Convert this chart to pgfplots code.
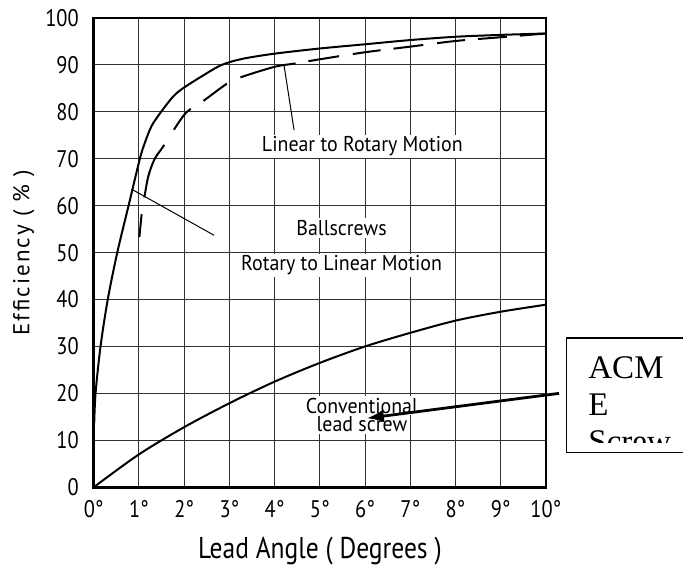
\documentclass[border=0pt]{standalone}
\usepackage{fontspec}
\setmainfont{PT Sans}
\newfontfamily\tickfont{PT Sans}[FakeStretch=0.85]
\newfontfamily\notefont{PT Sans}[FakeStretch=0.93]
\newfontfamily\ylabfont{PT Sans}[LetterSpace=9]
\newfontfamily\acmefont{Liberation Serif}
\usepackage{pgfplots}
\pgfplotsset{compat=1.18}
\usetikzlibrary{calc,arrows.meta}

\tikzset{
  lbl/.style={anchor=base, fill=white, inner sep=1pt, font=\notefont\fontsize{10.7}{12}\selectfont},
  acme/.style={anchor=base west, inner sep=0pt, font=\acmefont\fontsize{16.5}{18}\selectfont},
}

\begin{document}
\begin{tikzpicture}
\begin{axis}[
  name=ax,
  scale only axis,
  width=226pt, height=234.5pt,
  xmin=0, xmax=10, ymin=0, ymax=100,
  xtick={0,...,10},
  xticklabels={0°,1°,2°,3°,4°,5°,6°,7°,8°,9°,10°},
  ytick={0,10,...,100},
  grid=major,
  major grid style={black!80, line width=0.5pt},
  major tick length=0pt,
  axis line style={line width=1.3pt},
  tick label style={font=\tickfont\fontsize{12}{14}\selectfont},
  /pgf/number format/assume math mode=true,
  xticklabel style={yshift=-3pt},
  yticklabel style={xshift=-4pt},
  xlabel={Lead Angle ( Degrees )},
  ylabel={Efficiency ( \% )},
  xlabel style={font=\tickfont\fontsize{15}{17}\selectfont,
    at={(axis description cs:0.5,-0.151)}, anchor=base},
  ylabel style={font=\ylabfont\fontsize{11.5}{13}\selectfont,
    at={(axis description cs:-0.155,0.5)}, anchor=center},
  clip=false,
]
% ballscrew, rotary to linear (solid)
\addplot[black, line width=1pt, smooth, tension=0.5] coordinates {
(0.01,13.6) (0.04,20) (0.15,30) (0.31,40) (0.52,50) (0.77,60) (1.02,70)
(1.13,73.4) (1.28,77) (1.49,80) (1.75,83.2) (1.97,85) (2.41,87.7) (2.83,90)
(3.29,91.3) (4,92.4) (5,93.5) (6,94.4) (7,95.3) (8,96) (9,96.4) (10,96.7)
};
% ballscrew, linear to rotary (dashed)
\addplot[black, line width=1pt, smooth, tension=0.5,
  dash pattern=on 11.5pt off 8.5pt on 28.5pt off 9pt on 13.5pt off 7.5pt
  on 14.5pt off 7.5pt on 28.5pt off 6.5pt on 15.5pt off 7pt on 14pt off 6.5pt
  on 15pt off 7pt on 14pt off 6.5pt on 14.5pt off 6.5pt on 14pt off 6.5pt
  on 14pt off 6.5pt on 14pt off 6.5pt] coordinates {
(1.01,53.3) (1.06,58.2) (1.12,61.8) (1.21,66.4) (1.35,70) (1.55,72.8)
(1.76,76) (2.05,79.9) (2.42,82.3) (2.93,85.9) (3.23,87.3) (4,89.6)
(4.45,90.3) (5,91.2) (6,92.7) (7,93.9) (8,95.1) (9,95.9) (10,96.7)
};
% conventional lead screw
\addplot[black, line width=1pt, smooth] coordinates {
(0,0) (1,7.0) (2,12.8) (3,17.9) (4,22.5) (5,26.5) (6,30.0) (7,32.9)
(8,35.5) (9,37.4) (10,38.9)
};

\node[lbl] at (axis cs:5.94,71.5) {Linear to Rotary Motion};
\node[lbl] at (axis cs:5.48,53.7) {Ballscrews};
\node[lbl] at (axis cs:5.48,46.1) {Rotary to Linear Motion};
\node[lbl] at (axis cs:5.93,15.8) {Conventional};
\node[lbl] at (axis cs:5.93,11.8) {lead screw};

\draw[black, line width=0.5pt] (axis cs:4.21,89.8) -- (axis cs:4.43,76.1);
\draw[black, line width=0.5pt] (axis cs:0.84,63.5) -- (axis cs:2.66,53.7);

\draw[black, line width=1.4pt, -{Latex[length=8.5pt,width=6.5pt]}]
  (axis cs:10.29,20.0) -- (axis cs:6.04,14.7);

\draw[black, line width=0.6pt] (axis cs:10.46,7.46) rectangle (axis cs:13.4,31.8);
\begin{scope}
\clip (axis cs:10.46,9.6) rectangle (axis cs:13.4,31.8);
\node[acme] at (axis cs:10.93,23.2) {ACM};
\node[acme] at (axis cs:10.93,15.35) {E};
\node[acme] at (axis cs:10.93,7.46) {Screw};
\end{scope}
\end{axis}
\pgfresetboundingbox
\path[use as bounding box] ($(ax.south west)+(-46.85pt,-39pt)$) rectangle ($(ax.north east)+(68.5pt,9pt)$);
\end{tikzpicture}
\end{document}
